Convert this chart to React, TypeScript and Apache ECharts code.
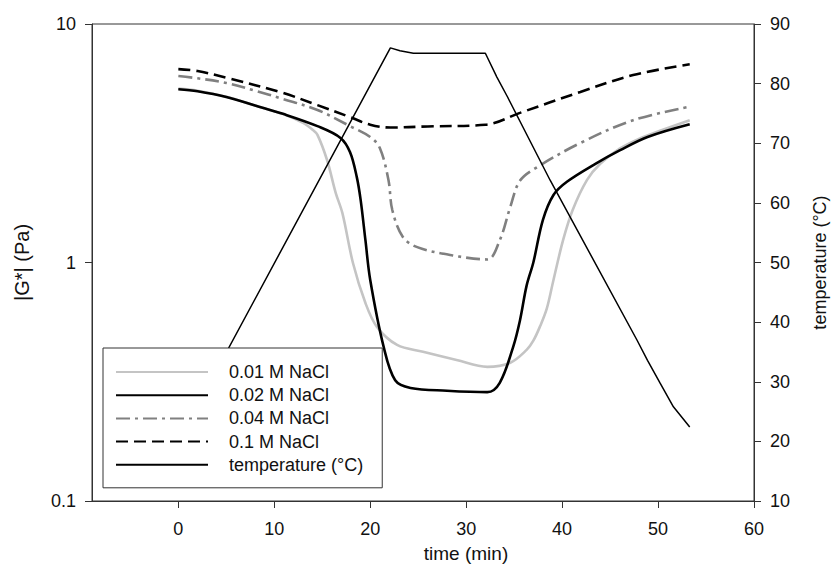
import React, { useEffect, useRef } from "react";
import * as echarts from "echarts";

// |G*| (Pa) over time for four salt concentrations, plus the temperature ramp
const t001 = [0, 2, 5, 8, 11, 13, 14, 14.5, 15.5, 16.4, 17.1, 18.2, 19.5, 20.7, 22.8, 25.5, 29, 32.2, 34.6, 36.3, 37, 37.7, 38.4, 39.1, 40.1, 41.1, 42.6, 44, 46, 48, 50.5, 53.3];
const g001 = [5.36, 5.25, 4.95, 4.55, 4.18, 3.85, 3.6, 3.43, 2.69, 1.96, 1.61, 0.995, 0.676, 0.537, 0.451, 0.422, 0.39, 0.365, 0.38, 0.43, 0.47, 0.54, 0.64, 0.845, 1.24, 1.66, 2.22, 2.6, 3.0, 3.3, 3.6, 3.95];

const t002 = [0, 2, 5, 8, 10.9, 14.5, 16.9, 17.9, 18.6, 19, 19.5, 20, 21.4, 22.6, 24.2, 28, 32.2, 33.5, 34.9, 35.6, 36.3, 37, 38, 39.1, 40.5, 43.6, 46, 48.9, 53.3];
const g002 = [5.33, 5.22, 4.94, 4.55, 4.2, 3.73, 3.33, 2.9, 2.28, 1.83, 1.24, 0.845, 0.443, 0.321, 0.298, 0.29, 0.286, 0.313, 0.443, 0.57, 0.8, 1.0, 1.51, 1.92, 2.18, 2.61, 2.95, 3.36, 3.8];

const t004 = [0, 2, 5, 8, 10.9, 14.5, 17.9, 20, 21, 21.9, 22.3, 23.4, 24.9, 28.6, 32.2, 33.5, 34.6, 35.6, 37.4, 41.9, 47.4, 53.3];
const g004 = [6.05, 5.92, 5.66, 5.25, 4.85, 4.36, 3.73, 3.36, 3.02, 2.22, 1.66, 1.28, 1.16, 1.07, 1.03, 1.24, 1.71, 2.2, 2.51, 3.17, 3.95, 4.5];

const t01 = [0, 2, 5.1, 10.9, 14.5, 17.9, 20, 22.1, 26, 32, 35.6, 41.9, 47.4, 53.3];
const g01 = [6.47, 6.35, 5.94, 5.14, 4.57, 4.07, 3.78, 3.68, 3.72, 3.78, 4.24, 5.19, 6.11, 6.78];

const tTemp = [0, 22.1, 23.1, 24.5, 32, 33.2, 34.3, 38.75, 47.8, 48.9, 50.2, 51.6, 53.3];
const temp = [20, 86, 85.5, 85.1, 85.1, 81.1, 77.8, 63.8, 37, 33.6, 29.8, 25.8, 22.4];

const xTicks = [0, 10, 20, 30, 40, 50, 60];
const seriesNames = ["0.01 M NaCl", "0.02 M NaCl", "0.04 M NaCl", "0.1 M NaCl", "temperature (°C)"];

const zip = (xs: number[], ys: number[]) => xs.map((x, i) => [x, ys[i]]);

const FONT = "Liberation Sans, Arial, sans-serif";
const AXIS = "#333";

export default function App() {
  const ref = useRef<HTMLDivElement>(null);

  useEffect(() => {
    if (!ref.current) return;
    const chart = echarts.init(ref.current, undefined, { renderer: "svg" });
    const lineBase = {
      type: "line" as const,
      showSymbol: false,
      symbol: "none",
      smooth: 0.35,
    };
    chart.setOption({
      animation: false,
      backgroundColor: "#fff",
      textStyle: { fontFamily: FONT },
      grid: {
        left: 92,
        right: 78,
        top: 24,
        bottom: 76,
        containLabel: false,
        outerBoundsMode: "none",
        show: true,
        borderColor: AXIS,
        borderWidth: 1,
      },
      legend: {
        orient: "vertical",
        left: 103,
        top: 348,
        padding: [15, 19, 14, 12],
        itemGap: 5.2,
        itemWidth: 92,
        itemHeight: 14,
        backgroundColor: "#fff",
        borderColor: AXIS,
        borderWidth: 1,
        borderRadius: 0,
        data: seriesNames,
        itemStyle: { opacity: 0 },
        textStyle: { fontSize: 18, color: "#111", fontFamily: FONT, padding: [0, 0, 0, 16] },
        z: 10,
      },
      xAxis: {
        type: "value",
        min: -9,
        max: 60,
        name: "time (min)",
        nameLocation: "middle",
        nameGap: 43,
        nameTextStyle: { fontSize: 19, color: "#111", fontFamily: FONT, padding: [0, 0, 0, 86] },
        axisLine: { show: true, onZero: false, lineStyle: { color: AXIS, width: 1 } },
        axisTick: { show: true, inside: false, length: 7, customValues: xTicks, lineStyle: { color: AXIS } },
        axisLabel: { customValues: xTicks, fontSize: 18, color: "#111", margin: 19, fontFamily: FONT },
        splitLine: { show: false },
      },
      yAxis: [
        {
          type: "log",
          logBase: 10,
          min: 0.1,
          max: 10,
          position: "left",
          name: "|G*| (Pa)",
          nameLocation: "middle",
          nameRotate: 90,
          nameGap: 60,
          nameTextStyle: { fontSize: 20, color: "#111", fontFamily: FONT },
          axisLine: { show: true, onZero: false, lineStyle: { color: AXIS, width: 1 } },
          axisTick: { show: true, length: 7, lineStyle: { color: AXIS } },
          axisLabel: { fontSize: 18, color: "#111", margin: 16, fontFamily: FONT },
          splitLine: { show: false },
          minorTick: { show: false },
        },
        {
          type: "value",
          min: 10,
          max: 90,
          interval: 10,
          position: "right",
          name: "temperature (°C)",
          nameLocation: "middle",
          nameRotate: 90,
          nameGap: 57,
          nameTextStyle: { fontSize: 18, color: "#111", fontFamily: FONT },
          axisLine: { show: true, onZero: false, lineStyle: { color: AXIS, width: 1 } },
          axisTick: { show: true, length: 7, lineStyle: { color: AXIS } },
          axisLabel: { fontSize: 18, color: "#111", margin: 16, fontFamily: FONT },
          splitLine: { show: false },
        },
      ],
      series: [
        {
          ...lineBase,
          name: seriesNames[0],
          data: zip(t001, g001),
          color: "#c4c4c4",
          lineStyle: { color: "#c4c4c4", width: 2.6, type: "solid" },
          z: 2,
        },
        {
          ...lineBase,
          name: seriesNames[1],
          data: zip(t002, g002),
          color: "#000",
          lineStyle: { color: "#000", width: 2.6, type: "solid" },
          z: 3,
        },
        {
          ...lineBase,
          name: seriesNames[2],
          data: zip(t004, g004),
          color: "#808080",
          lineStyle: { color: "#808080", width: 2.6, type: [14, 5, 3, 5] },
          z: 3,
        },
        {
          ...lineBase,
          name: seriesNames[3],
          data: zip(t01, g01),
          color: "#000",
          lineStyle: { color: "#000", width: 2.6, type: [12, 6] },
          z: 3,
        },
        {
          ...lineBase,
          smooth: false,
          name: seriesNames[4],
          yAxisIndex: 1,
          data: zip(tTemp, temp),
          color: "#000",
          lineStyle: { color: "#000", width: 1.5, type: "solid" },
          z: 4,
        },
      ],
    });
    return () => chart.dispose();
  }, []);

  return (
    <div
      ref={ref}
      style={{ position: "fixed", left: 0, top: 0, width: 832, height: 577, background: "#fff" }}
    />
  );
}
